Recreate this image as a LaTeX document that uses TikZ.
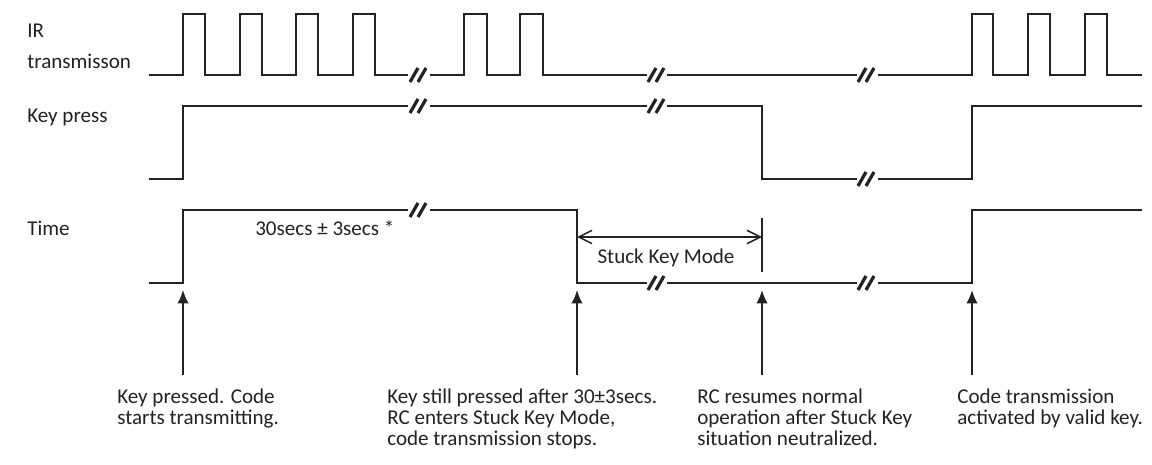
\documentclass[tikz,border=0pt]{standalone}
\usepackage{fontspec}
\setmainfont{Carlito}
\usetikzlibrary{arrows.meta}
\definecolor{ink}{HTML}{222222}
\newcommand{\brkmark}[2]{%
  \draw[brk] ({#1-9},{#2+7}) -- ({#1-1},{#2-7});
  \draw[brk] ({#1-1},{#2+7}) -- ({#1+7},{#2-7});}
\tikzset{
  wave/.style={ink,line width=1.6pt},
  brk/.style={ink,line width=2.4pt},
  lbl/.style={ink,inner sep=0pt,font=\fontsize{15.8}{15.75}\selectfont},
  note/.style={lbl,align=left},
  upar/.style={ink,line width=1.4pt,-{Latex[length=10pt,width=8.5pt]}},
  modearr/.style={ink,line width=1.1pt,{Straight Barb[length=10pt,width=10pt]}-{Straight Barb[length=10pt,width=10pt]}}
}
\begin{document}
\begin{tikzpicture}[x=0.75pt,y=-0.75pt]
  \useasboundingbox (0,0) rectangle (1152,464);
  \node[lbl,anchor=base west] (irA) at (27,37) {IR};
  \node[lbl,anchor=base west] (irB) at (27,68) {transmisson};
  \node[lbl,anchor=base west] (key) at (27,122) {Key press};
  \node[lbl,anchor=base west] (time) at (27,235) {Time};
  \draw[wave] (149,75) -- (183,75) -- (183,14) -- (205,14) -- (205,75) -- (240,75) -- (240,14) -- (262,14) -- (262,75) -- (296,75) -- (296,14) -- (318,14) -- (318,75) -- (353,75) -- (353,14) -- (375,14) -- (375,75) -- (408,75);
  \draw[wave] (430,75) -- (464,75) -- (464,14) -- (487,14) -- (487,75) -- (520,75) -- (520,14) -- (543,14) -- (543,75) -- (647,75);
  \draw[wave] (667,75) -- (857,75);
  \draw[wave] (878,75) -- (972,75) -- (972,14) -- (993,14) -- (993,75) -- (1028,75) -- (1028,14) -- (1050,14) -- (1050,75) -- (1085,75) -- (1085,14) -- (1107,14) -- (1107,75) -- (1142,75);
  \brkmark{419}{75}
  \brkmark{657}{75}
  \brkmark{867}{75}
  \draw[wave] (149,179) -- (183,179) -- (183,106) -- (408,106);
  \draw[wave] (430,106) -- (647,106);
  \draw[wave] (667,106) -- (762,106) -- (762,179) -- (857,179);
  \draw[wave] (878,179) -- (972,179) -- (972,106) -- (1142,106);
  \brkmark{419}{106}
  \brkmark{657}{106}
  \brkmark{867}{179}
  \draw[wave] (149,283) -- (183,283) -- (183,210) -- (408,210);
  \draw[wave] (430,210) -- (577,210) -- (577,283) -- (647,283);
  \draw[wave] (667,283) -- (857,283);
  \draw[wave] (878,283) -- (972,283) -- (972,210) -- (1142,210);
  \brkmark{419}{210}
  \brkmark{657}{283}
  \brkmark{867}{283}
  \node[lbl,anchor=base west] (dur) at (255,235) {30secs ± 3secs *};
  \coordinate (skA) at (577,237);
  \coordinate (skB) at (762,237);
  \draw[modearr] (skA) -- (skB);
  \draw[ink,line width=1.1pt] (762,218) -- (762,272);
  \node[lbl,anchor=base] (sk) at (666,263) {Stuck Key Mode};
  \node[note,anchor=north west] (n1) at (117,389) {Key pressed. Code\\starts transmitting.};
  \node[note,anchor=north west] (n2) at (387,389) {Key still pressed after 30±3secs.\\RC enters Stuck Key Mode,\\code transmission stops.};
  \node[note,anchor=north west] (n3) at (697,389) {RC resumes normal\\operation after Stuck Key\\situation neutralized.};
  \node[note,anchor=north west] (n4) at (957,389) {Code transmission\\activated by valid key.};
  \coordinate (t1) at (183,290);
  \coordinate (t2) at (577,290);
  \coordinate (t3) at (762,290);
  \coordinate (t4) at (972,290);
  \draw[upar] ([yshift=10.5pt]t1 |- n1.north) -- (t1);
  \draw[upar] ([yshift=10.5pt]t2 |- n2.north) -- (t2);
  \draw[upar] ([yshift=10.5pt]t3 |- n3.north) -- (t3);
  \draw[upar] ([yshift=10.5pt]t4 |- n4.north) -- (t4);
\end{tikzpicture}
\end{document}
